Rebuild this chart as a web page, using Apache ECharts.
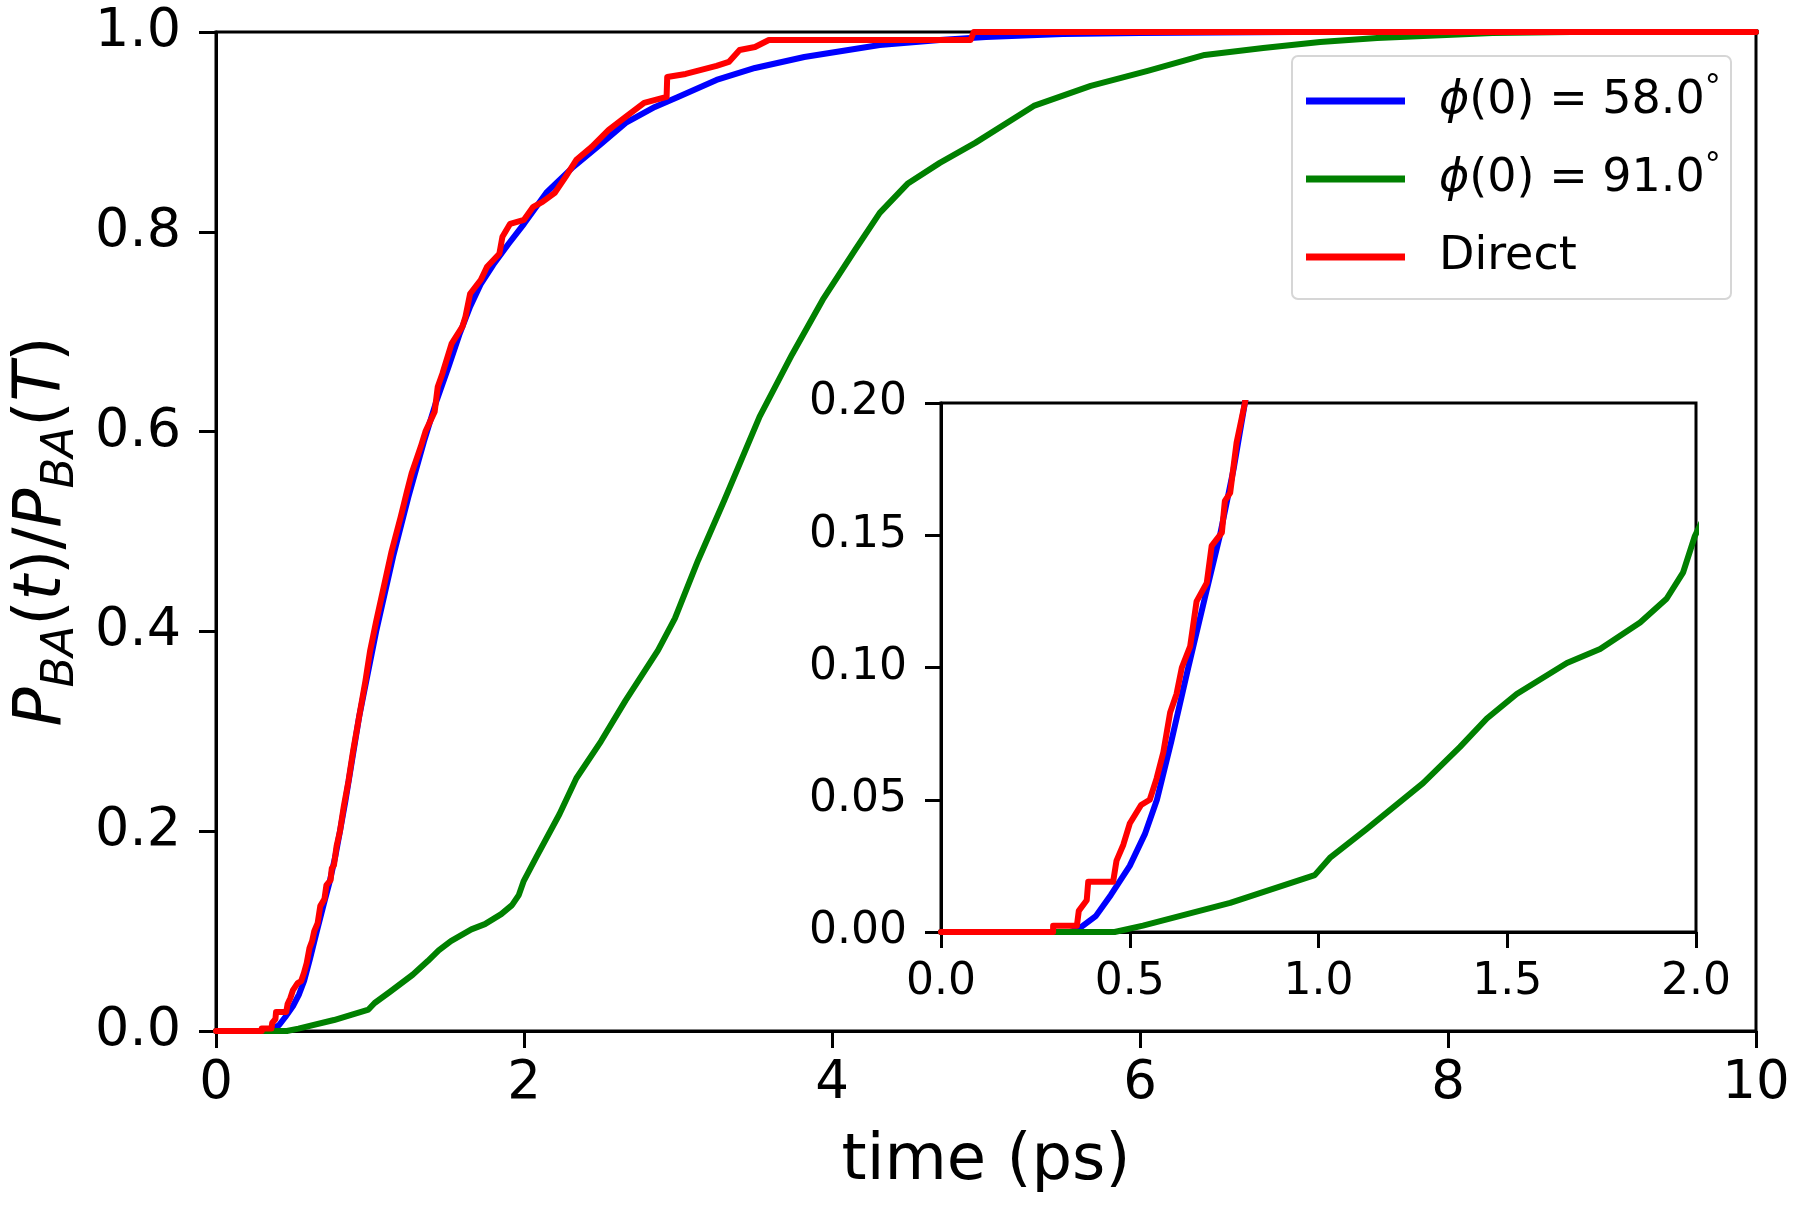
<!DOCTYPE html>
<html><head><meta charset="utf-8">
<script src="https://cdn.jsdelivr.net/npm/echarts@6/dist/echarts.min.js"></script>
<style>html,body{margin:0;padding:0;background:#fff}#c{width:1800px;height:1209px}</style>
</head><body><div id="c"></div>
<script>
// ---- data ----
const seriesNames = ['ϕ(0) = 58.0°', 'ϕ(0) = 91.0°', 'Direct'];
const seriesColors = ['#0000ff', '#008000', '#ff0000'];

const blueT = [0, 0.34, 0.363, 0.41, 0.45, 0.5, 0.54, 0.572, 0.61, 0.655, 0.70, 0.739, 0.775, 0.805, 0.84, 0.93, 1.04, 1.15, 1.25, 1.35, 1.43, 1.51, 1.58, 1.65, 1.72, 1.80, 1.9, 2.0, 2.15, 2.32, 2.5, 2.66, 2.85, 3.0, 3.25, 3.5, 3.82, 4.31, 4.7, 5.0, 5.5, 6.0, 7.0, 10];
const blueV = [0, 0, 0.001, 0.006, 0.014, 0.025, 0.037, 0.05, 0.072, 0.10, 0.127, 0.15, 0.175, 0.20, 0.23, 0.315, 0.40, 0.475, 0.535, 0.59, 0.63, 0.665, 0.697, 0.725, 0.748, 0.767, 0.788, 0.808, 0.84, 0.865, 0.888, 0.909, 0.925, 0.935, 0.952, 0.964, 0.975, 0.987, 0.992, 0.995, 0.998, 0.999, 1.0, 1.0];

const greenT = [0, 0.46, 0.535, 0.766, 0.99, 1.03, 1.128, 1.277, 1.375, 1.446, 1.525, 1.658, 1.746, 1.852, 1.922, 1.966, 1.997, 2.08, 2.23, 2.34, 2.5, 2.66, 2.87, 2.98, 3.13, 3.30, 3.53, 3.74, 3.94, 4.15, 4.31, 4.49, 4.7, 4.93, 5.31, 5.68, 6.05, 6.42, 6.80, 7.17, 7.54, 8.29, 8.8, 10];
const greenV = [0, 0, 0.0024, 0.011, 0.0215, 0.028, 0.039, 0.0563, 0.070, 0.0807, 0.090, 0.1017, 0.107, 0.117, 0.126, 0.136, 0.1497, 0.174, 0.217, 0.253, 0.29, 0.331, 0.381, 0.413, 0.471, 0.531, 0.615, 0.677, 0.732, 0.782, 0.819, 0.848, 0.869, 0.889, 0.926, 0.946, 0.961, 0.977, 0.984, 0.990, 0.994, 0.999, 1.0, 1.0];

const redT = [0, 0.297, 0.297, 0.36, 0.365, 0.386, 0.39, 0.456, 0.465, 0.483, 0.50, 0.53, 0.553, 0.571, 0.589, 0.607, 0.624, 0.638, 0.66, 0.677, 0.704, 0.717, 0.744, 0.752, 0.766, 0.783, 0.805, 0.83, 0.86, 0.89, 0.93, 0.97, 1.0, 1.04, 1.09, 1.14, 1.2, 1.24, 1.27, 1.33, 1.36, 1.42, 1.44, 1.47, 1.53, 1.60, 1.62, 1.65, 1.72, 1.76, 1.84, 1.86, 1.91, 2.0, 2.06, 2.12, 2.20, 2.27, 2.34, 2.44, 2.55, 2.66, 2.78, 2.926, 2.93, 3.05, 3.15, 3.25, 3.33, 3.40, 3.50, 3.59, 4.9, 4.92, 10];
const redV = [0, 0, 0.0024, 0.0024, 0.008, 0.012, 0.019, 0.019, 0.027, 0.033, 0.041, 0.048, 0.050, 0.058, 0.068, 0.083, 0.090, 0.100, 0.108, 0.125, 0.132, 0.146, 0.151, 0.163, 0.166, 0.185, 0.20, 0.225, 0.25, 0.28, 0.315, 0.35, 0.38, 0.41, 0.445, 0.48, 0.515, 0.54, 0.558, 0.585, 0.60, 0.62, 0.645, 0.658, 0.688, 0.705, 0.715, 0.738, 0.752, 0.765, 0.778, 0.795, 0.808, 0.812, 0.825, 0.83, 0.839, 0.855, 0.872, 0.885, 0.902, 0.915, 0.929, 0.935, 0.955, 0.958, 0.962, 0.966, 0.970, 0.982, 0.985, 0.992, 0.992, 1.0, 1.0];

const mainXTicks = ['0', '2', '4', '6', '8', '10'];
const mainYTicks = ['0.0', '0.2', '0.4', '0.6', '0.8', '1.0'];
const insetXTicks = ['0.0', '0.5', '1.0', '1.5', '2.0'];
const insetYTicks = ['0.00', '0.05', '0.10', '0.15', '0.20'];

// ---- chart ----
const F = 'DejaVu Sans';
const zip = (a, b) => a.map((x, i) => [x, b[i]]);
const tickFmt = (arr, step) => v => arr[Math.round(v / step)] ?? '';

function axisCommon(extra) {
  return Object.assign({
    type: 'value',
    axisLine: { show: true, onZero: false, lineStyle: { color: '#000', width: 3 } },
    splitLine: { show: false }
  }, extra);
}
function label(size, margin, fmt) {
  return { color: '#000', fontFamily: F, fontSize: size, margin: margin, showMinLabel: true, showMaxLabel: true, hideOverlap: false, formatter: fmt };
}
const tick = len => ({ show: true, inside: false, length: len, lineStyle: { color: '#000', width: 3 } });

const seriesData = [zip(blueT, blueV), zip(greenT, greenV), zip(redT, redV)];
const series = [];
[0, 1].forEach(g => {
  seriesData.forEach((d, i) => {
    series.push({
      type: 'line', name: seriesNames[i], xAxisIndex: g, yAxisIndex: g,
      data: d, symbol: 'none', showSymbol: false, clip: true, smooth: false,
      lineStyle: { color: seriesColors[i], width: 6, join: 'round', cap: 'round' },
      itemStyle: { color: seriesColors[i] },
      z: g === 0 ? 2 : 6, animation: false
    });
  });
});

const chart = echarts.init(document.getElementById('c'), null, { renderer: 'canvas' });
chart.setOption({
  animation: false,
  backgroundColor: '#fff',
  grid: [
    { left: 216, right: 44, top: 32, bottom: 178, show: true, borderColor: '#000', borderWidth: 3, backgroundColor: 'rgba(0,0,0,0)' },
    { left: 941, right: 104, top: 403, bottom: 277, show: true, borderColor: '#000', borderWidth: 3, backgroundColor: '#fff', z: 4 }
  ],
  xAxis: [
    axisCommon({ gridIndex: 0, min: 0, max: 10, interval: 2,
      axisTick: tick(17), axisLabel: label(53, 27, tickFmt(mainXTicks, 2)),
      name: 'time (ps)', nameLocation: 'middle', nameGap: 99,
      nameTextStyle: { fontSize: 64, color: '#000', fontFamily: F } }),
    axisCommon({ gridIndex: 1, min: 0, max: 2, interval: 0.5, z: 5,
      axisTick: tick(16), axisLabel: label(44, 29, tickFmt(insetXTicks, 0.5)) })
  ],
  yAxis: [
    axisCommon({ gridIndex: 0, min: 0, max: 1, interval: 0.2,
      axisTick: tick(17), axisLabel: label(54, 35, tickFmt(mainYTicks, 0.2)),
      name: '{p|P}{s|BA}{n|(}{p|t}{n|)/}{p|P}{s|BA}{n|(}{p|T}{n|)}',
      nameLocation: 'middle', nameRotate: 90, nameGap: 138,
      nameTextStyle: {
        color: '#000', fontFamily: F,
        rich: {
          p: { fontSize: 65, fontStyle: 'italic', fontFamily: F, color: '#000', lineHeight: 65, verticalAlign: 'top' },
          n: { fontSize: 65, fontFamily: F, color: '#000', lineHeight: 65, verticalAlign: 'top' },
          s: { fontSize: 45, fontStyle: 'italic', fontFamily: F, color: '#000', lineHeight: 45, padding: [29, 0, 0, 0], verticalAlign: 'top' }
        }
      } }),
    axisCommon({ gridIndex: 1, min: 0, max: 0.2, interval: 0.05, z: 5,
      axisTick: tick(16), axisLabel: label(44, 34, tickFmt(insetYTicks, 0.05)) })
  ],
  legend: {
    data: seriesNames, orient: 'vertical', left: 1306, top: 73, padding: 0,
    itemWidth: 99, itemHeight: 7, itemGap: 22, icon: 'rect', selectedMode: false, z: 10,
    formatter: name => {
      if (!name.startsWith('ϕ')) return '{n|' + name + '}';
      return '{i|ϕ}{n|' + name.slice(1).replace('°', '') + '}{d|°}';
    },
    textStyle: {
      fontSize: 46, fontFamily: F, color: '#000', lineHeight: 56, padding: [0, 0, 0, 29],
      rich: {
        i: { fontSize: 46, fontFamily: F, fontStyle: 'italic', color: '#000', lineHeight: 56 },
        n: { fontSize: 46, fontFamily: F, color: '#000', lineHeight: 56 },
        d: { fontSize: 32, fontFamily: F, color: '#000', lineHeight: 40, verticalAlign: 'top' }
      }
    }
  },
  graphic: [
    { type: 'rect', z: 9, shape: { x: 1292, y: 56, width: 439, height: 243, r: 6 },
      style: { fill: 'rgba(255,255,255,0.8)', stroke: '#d6d6d6', lineWidth: 2 } }
  ],
  series: series
});
</script>
</body></html>
